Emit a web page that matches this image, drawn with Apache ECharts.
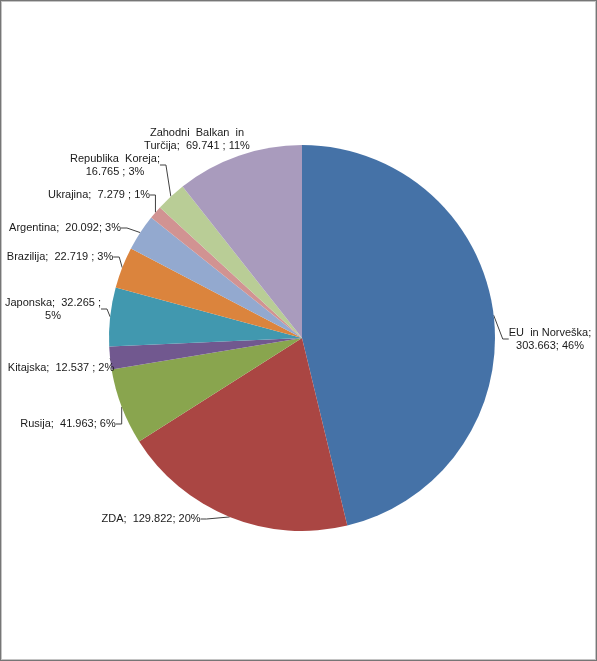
<!DOCTYPE html>
<html>
<head>
<meta charset="utf-8">
<script src="https://cdn.jsdelivr.net/npm/echarts@6/dist/echarts.min.js"></script>
<style>
  html, body { margin: 0; padding: 0; background: #fff; }
  #chart {
    width: 597px;
    height: 661px;
    box-sizing: border-box;
    border: 1px solid #767676;
    box-shadow: inset 0 0 0 1px #c4c4c4;
  }
</style>
</head>
<body>
<div id="chart"></div>
<script>
const names = [
  'EU in Norveška', 'ZDA', 'Rusija', 'Kitajska', 'Japonska',
  'Brazilija', 'Argentina', 'Ukrajina', 'Republika Koreja', 'Zahodni Balkan in Turčija'
]
const values = [303.663, 129.822, 41.963, 12.537, 32.265, 22.719, 20.092, 7.279, 16.765, 69.741]
const colors = [
  '#4572a7', '#aa4643', '#89a54e', '#71588f', '#4198af',
  '#db843d', '#93a9cf', '#d19392', '#b9cd96', '#a99bbd'
]

// label templates, kept like the original spacing / line breaks
const labelFormats = [
  'EU  in Norveška;\n{c}; {d}%',
  '{b};  {c}; {d}%',
  '{b};  {c}; {d}%',
  '{b};  {c} ; {d}%',
  '{b};  {c} ;\n{d}%',
  '{b};  {c} ; {d}%',
  '{b};  {c}; {d}%',
  '{b};  {c} ; {d}%',
  'Republika  Koreja;\n{c} ; {d}%',
  'Zahodni  Balkan  in\nTurčija;  {c} ; {d}%'
]

// label anchor positions (center of the text block)
const labelPos = [
  [549, 338], [150, 518], [67, 423], [60, 367], [52, 308],
  [59, 256], [64, 227], [98, 194], [114, 164], [196, 138]
]

const chart = echarts.init(document.getElementById('chart'))

const option = {
  animation: false,
  series: [
    {
      type: 'pie',
      center: [301, 337],
      radius: [0, 193],
      startAngle: 90,
      clockwise: true,
      avoidLabelOverlap: false,
      percentPrecision: 0,
      itemStyle: { borderWidth: 0 },
      label: {
        show: true,
        position: 'outside',
        fontFamily: 'Liberation Sans, Arial, sans-serif',
        fontSize: 11,
        lineHeight: 13,
        color: '#1a1a1a',
        align: 'center'
      },
      labelLine: {
        show: true,
        length: 6,
        length2: 6,
        lineStyle: { color: '#404040', width: 1 }
      },
      labelLayout: function (params) {
        const p = labelPos[params.dataIndex]
        return { x: p[0], y: p[1], align: 'center', verticalAlign: 'middle' }
      },
      emphasis: { disabled: true },
      data: names.map((n, i) => ({
        name: n,
        value: values[i],
        itemStyle: { color: colors[i] },
        label: { formatter: labelFormats[i] },
        labelLine: { show: i !== 9 }
      }))
    }
  ]
}

chart.setOption(option)
</script>
</body>
</html>
